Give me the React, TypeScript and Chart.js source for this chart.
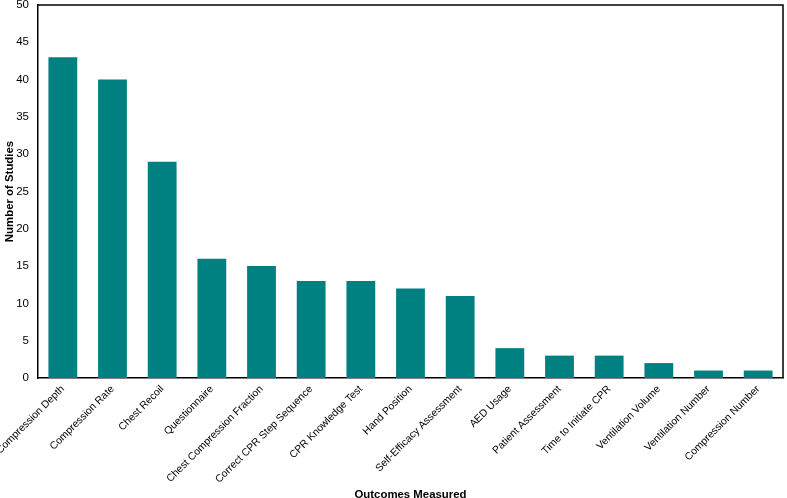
import { useEffect, useRef } from 'react';
import { Chart, registerables } from 'chart.js';

Chart.register(...registerables);

const outcomes = [
  'Compression Depth',
  'Compression Rate',
  'Chest Recoil',
  'Questionnaire',
  'Chest Compression Fraction',
  'Correct CPR Step Sequence',
  'CPR Knowledge Test',
  'Hand Position',
  'Self-Efficacy Assessment',
  'AED Usage',
  'Patient Assessment',
  'Time to Initiate CPR',
  'Ventilation Volume',
  'Ventilation Number',
  'Compression Number',
];
const studyCounts = [43, 40, 29, 16, 15, 13, 13, 12, 11, 4, 3, 3, 2, 1, 1];

const FONT = '"Liberation Sans", Arial, sans-serif';

// draws the top and right edges of the plot box
const boxPlugin = {
  id: 'box',
  afterDraw(chart: any) {
    const { ctx, chartArea } = chart;
    ctx.save();
    ctx.strokeStyle = '#000';
    ctx.lineWidth = 1.5;
    ctx.beginPath();
    ctx.moveTo(chartArea.left, chartArea.top);
    ctx.lineTo(chartArea.right, chartArea.top);
    ctx.lineTo(chartArea.right, chartArea.bottom);
    ctx.stroke();
    ctx.restore();
  },
};

const App = () => {
  const chartRef = useRef<HTMLCanvasElement>(null);

  useEffect(() => {
    document.body.style.margin = '0';
    const myChart = new Chart(chartRef.current!, {
      type: 'bar',
      data: {
        labels: outcomes,
        datasets: [{
          label: 'Number of Studies',
          data: studyCounts,
          backgroundColor: '#008080',
          barPercentage: 0.58,
          categoryPercentage: 1,
        }],
      },
      options: {
        animation: false,
        responsive: false,
        layout: { padding: { top: 5, right: 4, left: 0, bottom: 0 } },
        plugins: {
          legend: { display: false },
          tooltip: { enabled: false },
        },
        scales: {
          x: {
            grid: { display: false, drawTicks: false },
            border: { display: true, color: '#000', width: 1.5 },
            afterFit: (scale: any) => {
              scale.height = 120;
              scale.paddingLeft = 0;
              scale.paddingRight = 0;
            },
            ticks: {
              color: '#000',
              maxRotation: 45,
              minRotation: 45,
              autoSkip: false,
              padding: 5,
              font: { family: FONT, size: 10.4 },
            },
            title: {
              display: true,
              text: 'Outcomes Measured',
              color: '#000',
              font: { family: FONT, size: 11.4, weight: 'bold', lineHeight: 1 },
              padding: { top: 0, bottom: -3 },
            },
          },
          y: {
            min: 0,
            max: 50,
            grid: { display: false, drawTicks: false },
            border: { display: true, color: '#000', width: 1.5 },
            afterFit: (scale: any) => {
              scale.width = 38;
              scale.paddingTop = 0;
              scale.paddingBottom = 0;
            },
            ticks: {
              stepSize: 5,
              color: '#000',
              padding: 9,
              font: { family: FONT, size: 11.5 },
            },
            title: {
              display: true,
              text: 'Number of Studies',
              color: '#000',
              font: { family: FONT, size: 11.4, weight: 'bold', lineHeight: 1 },
              padding: { top: 4, bottom: 0 },
            },
          },
        },
      },
      plugins: [boxPlugin],
    });

    return () => {
      if (myChart) {
        myChart.destroy();
      }
    };
  }, []);

  return (
    <div style={{ width: 787, height: 498, background: '#fff' }}>
      <canvas ref={chartRef} width={787} height={498}></canvas>
    </div>
  );
};

export default App;
